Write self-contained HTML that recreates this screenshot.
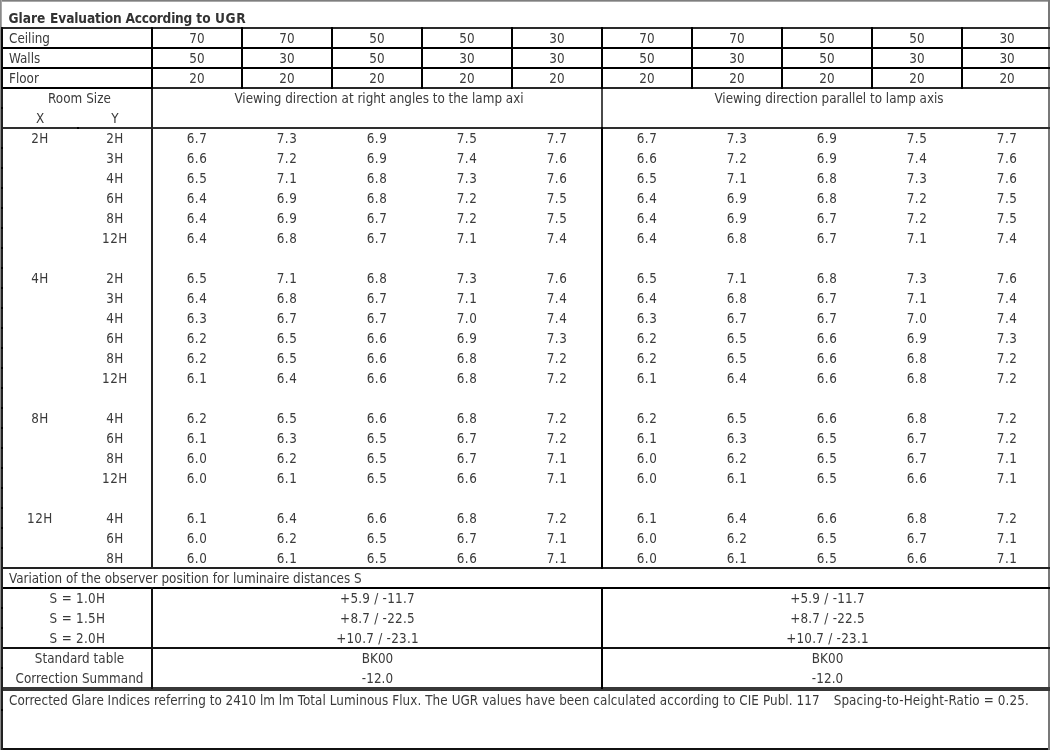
<!DOCTYPE html>
<html lang="en"><head><meta charset="utf-8"><title>Glare Evaluation According to UGR</title>
<style>
html,body{margin:0;padding:0;background:#fff;}
body{width:1050px;height:750px;overflow:hidden;position:relative;font-family:"DejaVu Sans Condensed", "Liberation Sans", sans-serif;font-size:13.33px;color:#3a3a3a;}
#frame{position:absolute;left:0;top:0;width:1050px;height:750px;overflow:hidden;background:#fff;}
table.ugr{position:absolute;left:0;top:9px;width:1052px;border-collapse:separate;border-spacing:0;table-layout:fixed;transform:translateZ(0);}
table.ugr td,table.ugr th{height:20px;line-height:20px;padding:0;margin:0;text-align:center;font-weight:normal;white-space:nowrap;overflow:visible;vertical-align:top;}
table.ugr td.l{text-align:left;padding-left:9px;}
table.ugr th.title{text-align:left;padding-left:8.5px;font-weight:bold;font-size:13.6px;color:#333;}
table.ugr th.title>span{position:relative;top:-1px;}
.w2{letter-spacing:-0.13px;margin-left:0.5px;}
.w3{letter-spacing:-0.24px;margin-left:-0.5px;}
.w4{margin-left:0px;}
.w5{letter-spacing:0.6px;margin-left:0.2px;}
table.ugr td.x{padding-left:3px;}
table.ugr td.y{padding-left:1px;}
table.ugr td.rs{padding-left:7px;letter-spacing:0.06px;}
table.ugr td.v{letter-spacing:0.25px;padding-left:1px;}
table.ugr td.bk{letter-spacing:0.08px;padding-left:1px;}
table.ugr td.s{padding-left:3px;letter-spacing:0.3px;}
table.ugr td.foot{text-align:left;padding-left:9px;padding-top:2px;height:58px;}
table.ugr td.hx{padding-left:3px;letter-spacing:0.5px;}
table.ugr td.hy{padding-left:1px;letter-spacing:0.5px;}
table.ugr td.d{letter-spacing:0.5px;}
.sh{position:relative;left:2px;}
.f0{letter-spacing:0.02px;}
.f1{letter-spacing:0.08px;}
.f2{margin-left:14px;letter-spacing:0.12px;}
.ln{position:absolute;background:#111;}
.g{position:absolute;background:#808080;}
</style></head>
<body>
<div id="frame">
<table class="ugr"><colgroup><col style="width:77px"><col style="width:75px"><col style="width:90px"><col style="width:90px"><col style="width:90px"><col style="width:90px"><col style="width:90px"><col style="width:90px"><col style="width:90px"><col style="width:90px"><col style="width:90px"><col style="width:90px"></colgroup>
<tbody>
<tr><th class="title" colspan="12"><span><span class="w1">Glare</span> <span class="w2">Evaluation</span> <span class="w3">According</span> <span class="w4">to</span> <span class="w5">UGR</span></span></th></tr>
<tr><td class="l" colspan="2">Ceiling</td><td class="r">70</td><td class="r">70</td><td class="r">50</td><td class="r">50</td><td class="r">30</td><td class="r">70</td><td class="r">70</td><td class="r">50</td><td class="r">50</td><td class="r">30</td></tr>
<tr><td class="l" colspan="2">Walls</td><td class="r">50</td><td class="r">30</td><td class="r">50</td><td class="r">30</td><td class="r">30</td><td class="r">50</td><td class="r">30</td><td class="r">50</td><td class="r">30</td><td class="r">30</td></tr>
<tr><td class="l" colspan="2">Floor</td><td class="r">20</td><td class="r">20</td><td class="r">20</td><td class="r">20</td><td class="r">20</td><td class="r">20</td><td class="r">20</td><td class="r">20</td><td class="r">20</td><td class="r">20</td></tr>
<tr><td class="rs" colspan="2">Room Size</td><td class="vd" colspan="5"><span class="sh">Viewing direction at right angles to the lamp axi</span></td><td class="vd" colspan="5"><span class="sh">Viewing direction parallel to lamp axis</span></td></tr>
<tr><td class="x">X</td><td class="y">Y</td><td colspan="5"></td><td colspan="5"></td></tr>
<tr><td class="hx">2H</td><td class="hy">2H</td><td class="d">6.7</td><td class="d">7.3</td><td class="d">6.9</td><td class="d">7.5</td><td class="d">7.7</td><td class="d">6.7</td><td class="d">7.3</td><td class="d">6.9</td><td class="d">7.5</td><td class="d">7.7</td></tr>
<tr><td class="hx"></td><td class="hy">3H</td><td class="d">6.6</td><td class="d">7.2</td><td class="d">6.9</td><td class="d">7.4</td><td class="d">7.6</td><td class="d">6.6</td><td class="d">7.2</td><td class="d">6.9</td><td class="d">7.4</td><td class="d">7.6</td></tr>
<tr><td class="hx"></td><td class="hy">4H</td><td class="d">6.5</td><td class="d">7.1</td><td class="d">6.8</td><td class="d">7.3</td><td class="d">7.6</td><td class="d">6.5</td><td class="d">7.1</td><td class="d">6.8</td><td class="d">7.3</td><td class="d">7.6</td></tr>
<tr><td class="hx"></td><td class="hy">6H</td><td class="d">6.4</td><td class="d">6.9</td><td class="d">6.8</td><td class="d">7.2</td><td class="d">7.5</td><td class="d">6.4</td><td class="d">6.9</td><td class="d">6.8</td><td class="d">7.2</td><td class="d">7.5</td></tr>
<tr><td class="hx"></td><td class="hy">8H</td><td class="d">6.4</td><td class="d">6.9</td><td class="d">6.7</td><td class="d">7.2</td><td class="d">7.5</td><td class="d">6.4</td><td class="d">6.9</td><td class="d">6.7</td><td class="d">7.2</td><td class="d">7.5</td></tr>
<tr><td class="hx"></td><td class="hy">12H</td><td class="d">6.4</td><td class="d">6.8</td><td class="d">6.7</td><td class="d">7.1</td><td class="d">7.4</td><td class="d">6.4</td><td class="d">6.8</td><td class="d">6.7</td><td class="d">7.1</td><td class="d">7.4</td></tr>
<tr><td colspan="12">&nbsp;</td></tr>
<tr><td class="hx">4H</td><td class="hy">2H</td><td class="d">6.5</td><td class="d">7.1</td><td class="d">6.8</td><td class="d">7.3</td><td class="d">7.6</td><td class="d">6.5</td><td class="d">7.1</td><td class="d">6.8</td><td class="d">7.3</td><td class="d">7.6</td></tr>
<tr><td class="hx"></td><td class="hy">3H</td><td class="d">6.4</td><td class="d">6.8</td><td class="d">6.7</td><td class="d">7.1</td><td class="d">7.4</td><td class="d">6.4</td><td class="d">6.8</td><td class="d">6.7</td><td class="d">7.1</td><td class="d">7.4</td></tr>
<tr><td class="hx"></td><td class="hy">4H</td><td class="d">6.3</td><td class="d">6.7</td><td class="d">6.7</td><td class="d">7.0</td><td class="d">7.4</td><td class="d">6.3</td><td class="d">6.7</td><td class="d">6.7</td><td class="d">7.0</td><td class="d">7.4</td></tr>
<tr><td class="hx"></td><td class="hy">6H</td><td class="d">6.2</td><td class="d">6.5</td><td class="d">6.6</td><td class="d">6.9</td><td class="d">7.3</td><td class="d">6.2</td><td class="d">6.5</td><td class="d">6.6</td><td class="d">6.9</td><td class="d">7.3</td></tr>
<tr><td class="hx"></td><td class="hy">8H</td><td class="d">6.2</td><td class="d">6.5</td><td class="d">6.6</td><td class="d">6.8</td><td class="d">7.2</td><td class="d">6.2</td><td class="d">6.5</td><td class="d">6.6</td><td class="d">6.8</td><td class="d">7.2</td></tr>
<tr><td class="hx"></td><td class="hy">12H</td><td class="d">6.1</td><td class="d">6.4</td><td class="d">6.6</td><td class="d">6.8</td><td class="d">7.2</td><td class="d">6.1</td><td class="d">6.4</td><td class="d">6.6</td><td class="d">6.8</td><td class="d">7.2</td></tr>
<tr><td colspan="12">&nbsp;</td></tr>
<tr><td class="hx">8H</td><td class="hy">4H</td><td class="d">6.2</td><td class="d">6.5</td><td class="d">6.6</td><td class="d">6.8</td><td class="d">7.2</td><td class="d">6.2</td><td class="d">6.5</td><td class="d">6.6</td><td class="d">6.8</td><td class="d">7.2</td></tr>
<tr><td class="hx"></td><td class="hy">6H</td><td class="d">6.1</td><td class="d">6.3</td><td class="d">6.5</td><td class="d">6.7</td><td class="d">7.2</td><td class="d">6.1</td><td class="d">6.3</td><td class="d">6.5</td><td class="d">6.7</td><td class="d">7.2</td></tr>
<tr><td class="hx"></td><td class="hy">8H</td><td class="d">6.0</td><td class="d">6.2</td><td class="d">6.5</td><td class="d">6.7</td><td class="d">7.1</td><td class="d">6.0</td><td class="d">6.2</td><td class="d">6.5</td><td class="d">6.7</td><td class="d">7.1</td></tr>
<tr><td class="hx"></td><td class="hy">12H</td><td class="d">6.0</td><td class="d">6.1</td><td class="d">6.5</td><td class="d">6.6</td><td class="d">7.1</td><td class="d">6.0</td><td class="d">6.1</td><td class="d">6.5</td><td class="d">6.6</td><td class="d">7.1</td></tr>
<tr><td colspan="12">&nbsp;</td></tr>
<tr><td class="hx">12H</td><td class="hy">4H</td><td class="d">6.1</td><td class="d">6.4</td><td class="d">6.6</td><td class="d">6.8</td><td class="d">7.2</td><td class="d">6.1</td><td class="d">6.4</td><td class="d">6.6</td><td class="d">6.8</td><td class="d">7.2</td></tr>
<tr><td class="hx"></td><td class="hy">6H</td><td class="d">6.0</td><td class="d">6.2</td><td class="d">6.5</td><td class="d">6.7</td><td class="d">7.1</td><td class="d">6.0</td><td class="d">6.2</td><td class="d">6.5</td><td class="d">6.7</td><td class="d">7.1</td></tr>
<tr><td class="hx"></td><td class="hy">8H</td><td class="d">6.0</td><td class="d">6.1</td><td class="d">6.5</td><td class="d">6.6</td><td class="d">7.1</td><td class="d">6.0</td><td class="d">6.1</td><td class="d">6.5</td><td class="d">6.6</td><td class="d">7.1</td></tr>
<tr><td class="l" colspan="12">Variation of the observer position for luminaire distances S</td></tr>
<tr><td class="s" colspan="2">S = 1.0H</td><td class="v" colspan="5">+5.9 / -11.7</td><td class="v" colspan="5">+5.9 / -11.7</td></tr>
<tr><td class="s" colspan="2">S = 1.5H</td><td class="v" colspan="5">+8.7 / -22.5</td><td class="v" colspan="5">+8.7 / -22.5</td></tr>
<tr><td class="s" colspan="2">S = 2.0H</td><td class="v" colspan="5">+10.7 / -23.1</td><td class="v" colspan="5">+10.7 / -23.1</td></tr>
<tr><td class="rs st" colspan="2">Standard table</td><td class="bk" colspan="5">BK00</td><td class="bk" colspan="5">BK00</td></tr>
<tr><td class="rs st" colspan="2">Correction Summand</td><td class="bk" colspan="5">-12.0</td><td class="bk" colspan="5">-12.0</td></tr>
<tr><td class="foot" colspan="12"><span class="f0">Corrected Glare Indices referring to 2410 lm lm </span><span class="f1">Total Luminous Flux. The UGR values have been calculated according to CIE Publ. 117</span><span class="f2">Spacing-to-Height-Ratio = 0.25.</span></td></tr>
</tbody></table>
<div class="g" style="left:0px;top:0px;width:1050px;height:1px;background:#7e7e7e;"></div>
<div class="g" style="left:0px;top:1px;width:1050px;height:1px;background:#a8a8a8;"></div>
<div class="g" style="left:0px;top:0px;width:1px;height:750px;background:#8a8a8a;"></div>
<div class="g" style="left:1px;top:0px;width:1px;height:27px;background:#a8a8a8;"></div>
<div class="g" style="left:1048px;top:0px;width:2px;height:750px;background:#787878;"></div>
<div class="ln" style="left:1px;top:27px;width:1049px;height:2px;background:#2a2a2a;"></div>
<div class="ln" style="left:1px;top:47px;width:1049px;height:2px;background:#000;"></div>
<div class="ln" style="left:1px;top:67px;width:1049px;height:2px;background:#000;"></div>
<div class="ln" style="left:1px;top:87px;width:152px;height:2px;background:#000;"></div>
<div class="ln" style="left:153px;top:87px;width:897px;height:2px;background:#262626;"></div>
<div class="ln" style="left:1px;top:127px;width:1049px;height:2px;background:#2e2e2e;"></div>
<div class="ln" style="left:1px;top:567px;width:1049px;height:2px;background:#222;"></div>
<div class="ln" style="left:1px;top:587px;width:1049px;height:2px;background:#000;"></div>
<div class="ln" style="left:1px;top:647px;width:1049px;height:2px;background:#111;"></div>
<div class="ln" style="left:1px;top:687px;width:1049px;height:4px;background:#383838;"></div>
<div class="ln" style="left:1px;top:748px;width:1047px;height:2px;background:#111;"></div>
<div class="ln" style="left:1px;top:27px;width:2px;height:62px;background:#0a0a0a;"></div>
<div class="ln" style="left:1px;top:89px;width:2px;height:661px;background:#222;"></div>
<div class="ln" style="left:1px;top:147px;width:2px;height:2px;background:#000;"></div>
<div class="ln" style="left:151px;top:147px;width:2px;height:2px;background:#000;"></div>
<div class="ln" style="left:1px;top:167px;width:2px;height:2px;background:#000;"></div>
<div class="ln" style="left:151px;top:167px;width:2px;height:2px;background:#000;"></div>
<div class="ln" style="left:1px;top:187px;width:2px;height:2px;background:#000;"></div>
<div class="ln" style="left:151px;top:187px;width:2px;height:2px;background:#000;"></div>
<div class="ln" style="left:1px;top:207px;width:2px;height:2px;background:#000;"></div>
<div class="ln" style="left:151px;top:207px;width:2px;height:2px;background:#000;"></div>
<div class="ln" style="left:1px;top:227px;width:2px;height:2px;background:#000;"></div>
<div class="ln" style="left:151px;top:227px;width:2px;height:2px;background:#000;"></div>
<div class="ln" style="left:1px;top:247px;width:2px;height:2px;background:#000;"></div>
<div class="ln" style="left:151px;top:247px;width:2px;height:2px;background:#000;"></div>
<div class="ln" style="left:1px;top:267px;width:2px;height:2px;background:#000;"></div>
<div class="ln" style="left:151px;top:267px;width:2px;height:2px;background:#000;"></div>
<div class="ln" style="left:1px;top:287px;width:2px;height:2px;background:#000;"></div>
<div class="ln" style="left:151px;top:287px;width:2px;height:2px;background:#000;"></div>
<div class="ln" style="left:1px;top:307px;width:2px;height:2px;background:#000;"></div>
<div class="ln" style="left:151px;top:307px;width:2px;height:2px;background:#000;"></div>
<div class="ln" style="left:1px;top:327px;width:2px;height:2px;background:#000;"></div>
<div class="ln" style="left:151px;top:327px;width:2px;height:2px;background:#000;"></div>
<div class="ln" style="left:1px;top:347px;width:2px;height:2px;background:#000;"></div>
<div class="ln" style="left:151px;top:347px;width:2px;height:2px;background:#000;"></div>
<div class="ln" style="left:1px;top:367px;width:2px;height:2px;background:#000;"></div>
<div class="ln" style="left:151px;top:367px;width:2px;height:2px;background:#000;"></div>
<div class="ln" style="left:1px;top:387px;width:2px;height:2px;background:#000;"></div>
<div class="ln" style="left:151px;top:387px;width:2px;height:2px;background:#000;"></div>
<div class="ln" style="left:1px;top:407px;width:2px;height:2px;background:#000;"></div>
<div class="ln" style="left:151px;top:407px;width:2px;height:2px;background:#000;"></div>
<div class="ln" style="left:1px;top:427px;width:2px;height:2px;background:#000;"></div>
<div class="ln" style="left:151px;top:427px;width:2px;height:2px;background:#000;"></div>
<div class="ln" style="left:1px;top:447px;width:2px;height:2px;background:#000;"></div>
<div class="ln" style="left:151px;top:447px;width:2px;height:2px;background:#000;"></div>
<div class="ln" style="left:1px;top:467px;width:2px;height:2px;background:#000;"></div>
<div class="ln" style="left:151px;top:467px;width:2px;height:2px;background:#000;"></div>
<div class="ln" style="left:1px;top:487px;width:2px;height:2px;background:#000;"></div>
<div class="ln" style="left:151px;top:487px;width:2px;height:2px;background:#000;"></div>
<div class="ln" style="left:1px;top:507px;width:2px;height:2px;background:#000;"></div>
<div class="ln" style="left:151px;top:507px;width:2px;height:2px;background:#000;"></div>
<div class="ln" style="left:1px;top:527px;width:2px;height:2px;background:#000;"></div>
<div class="ln" style="left:151px;top:527px;width:2px;height:2px;background:#000;"></div>
<div class="ln" style="left:1px;top:547px;width:2px;height:2px;background:#000;"></div>
<div class="ln" style="left:151px;top:547px;width:2px;height:2px;background:#000;"></div>
<div class="ln" style="left:1px;top:107px;width:2px;height:2px;background:#000;"></div>
<div class="ln" style="left:151px;top:107px;width:2px;height:2px;background:#000;"></div>
<div class="ln" style="left:1px;top:607px;width:2px;height:2px;background:#000;"></div>
<div class="ln" style="left:1px;top:627px;width:2px;height:2px;background:#000;"></div>
<div class="ln" style="left:1px;top:667px;width:2px;height:2px;background:#000;"></div>
<div class="ln" style="left:1px;top:709px;width:2px;height:2px;background:#000;"></div>
<div class="ln" style="left:601px;top:107px;width:2px;height:2px;background:#000;"></div>
<div class="ln" style="left:77px;top:127px;width:2px;height:2px;background:#000;"></div>
<div class="ln" style="left:151px;top:27px;width:2px;height:62px;background:#000;"></div>
<div class="ln" style="left:151px;top:89px;width:2px;height:480px;background:#222;"></div>
<div class="ln" style="left:151px;top:587px;width:2px;height:102px;background:#111;"></div>
<div class="ln" style="left:241px;top:27px;width:2px;height:62px;background:#000;"></div>
<div class="ln" style="left:331px;top:27px;width:2px;height:62px;background:#000;"></div>
<div class="ln" style="left:421px;top:27px;width:2px;height:62px;background:#000;"></div>
<div class="ln" style="left:511px;top:27px;width:2px;height:62px;background:#000;"></div>
<div class="ln" style="left:601px;top:27px;width:2px;height:62px;background:#000;"></div>
<div class="ln" style="left:601px;top:89px;width:2px;height:38px;background:#4a4a4a;"></div>
<div class="ln" style="left:601px;top:127px;width:2px;height:442px;background:#000;"></div>
<div class="ln" style="left:601px;top:587px;width:2px;height:102px;background:#000;"></div>
<div class="ln" style="left:691px;top:27px;width:2px;height:62px;background:#000;"></div>
<div class="ln" style="left:781px;top:27px;width:2px;height:62px;background:#000;"></div>
<div class="ln" style="left:871px;top:27px;width:2px;height:62px;background:#000;"></div>
<div class="ln" style="left:961px;top:27px;width:2px;height:62px;background:#000;"></div>
</div>
</body></html>
